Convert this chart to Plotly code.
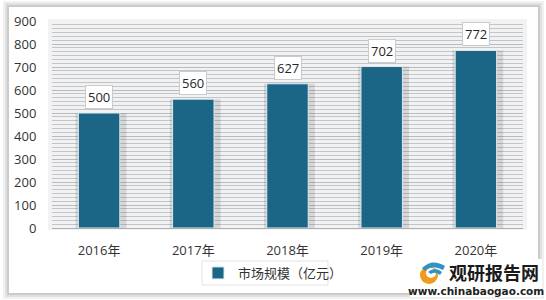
import plotly.graph_objects as go

# ---- data ----
years = ["2016年", "2017年", "2018年", "2019年", "2020年"]
values = [500, 560, 627, 702, 772]
series_name = "市场规模（亿元）"
y_tickvals = [0, 100, 200, 300, 400, 500, 600, 700, 800, 900]

W, H = 546, 300
FONT = "Open Sans, Noto Sans CJK SC, sans-serif"


def px(x):
    return x / W


def py(y):
    return 1 - y / H


fig = go.Figure()

# soft shadow behind bars (offset to the right, as in the reference)
fig.add_trace(go.Bar(
    x=years, y=values, width=0.54, offset=-0.25,
    marker=dict(color="rgba(60,60,60,0.15)", line=dict(width=0)),
    showlegend=False, hoverinfo="skip",
))
fig.add_trace(go.Bar(
    x=years, y=values, width=0.44, name=series_name,
    marker=dict(color="#1b6687", line=dict(color="#dfe8ee", width=1)),
))

# value labels in white boxes
for yr, v in zip(years, values):
    fig.add_annotation(
        x=yr, y=v, text=str(v), showarrow=False,
        yanchor="bottom", yshift=4,
        bgcolor="white", bordercolor="#c9cccf", borderwidth=1, borderpad=2,
        font=dict(family=FONT, size=13, color="#262626"),
    )

shapes = []
# card shadow layers
for i, op in enumerate([0.10, 0.14, 0.20]):
    d = 3 - i
    shapes.append(dict(type="rect", xref="paper", yref="paper", layer="below",
                       x0=px(9 - d * 2), x1=px(538 + d * 2), y0=py(293 + d * 2), y1=py(7 - d * 2),
                       fillcolor=f"rgba(120,120,120,{op})", line=dict(width=0)))
shapes.append(dict(type="rect", xref="paper", yref="paper", layer="below",
                   x0=px(9), x1=px(538), y0=py(293), y1=py(7),
                   fillcolor="white", line=dict(width=0)))
# plot panel soft shadow
shapes.append(dict(type="rect", xref="paper", yref="paper", layer="below",
                   x0=px(48), x1=px(527), y0=py(230), y1=py(19),
                   fillcolor="rgba(150,150,150,0.12)", line=dict(width=0)))
# legend box
shapes.append(dict(type="rect", xref="paper", yref="paper", layer="below",
                   x0=px(202), x1=px(328), y0=py(285), y1=py(261),
                   fillcolor="white", line=dict(color="rgba(200,200,200,0.5)", width=1)))
# watermark white box
shapes.append(dict(type="rect", xref="paper", yref="paper", layer="above",
                   x0=px(410), x1=px(542), y0=py(297), y1=py(259),
                   fillcolor="white", line=dict(width=0)))


def circle(cx, cy, r, color):
    return dict(type="circle", xref="paper", yref="paper", layer="above",
                x0=px(cx - r), x1=px(cx + r), y0=py(cy + r), y1=py(cy - r),
                fillcolor=color, line=dict(width=0))


# logo approximation
shapes.append(circle(429, 275, 9, "#f39a1e"))
shapes.append(circle(431, 273, 5, "white"))
shapes.append(dict(type="path", xref="paper", yref="paper", layer="above",
                   path=(f"M {px(422)},{py(268)} Q {px(432)},{py(258)} {px(445)},{py(266)} "
                         f"L {px(443)},{py(270)} Q {px(432)},{py(264)} {px(425)},{py(271)} Z"),
                   fillcolor="#2f93c8", line=dict(width=0)))
shapes.append(dict(type="path", xref="paper", yref="paper", layer="above",
                   path=(f"M {px(428)},{py(272)} Q {px(435)},{py(266)} {px(442)},{py(272)} "
                         f"L {px(440)},{py(275)} Q {px(435)},{py(271)} {px(431)},{py(274)} Z"),
                   fillcolor="#2f93c8", line=dict(width=0)))

fig.add_annotation(xref="paper", yref="paper", x=px(447), y=py(272), xanchor="left", yanchor="middle",
                   text="<b>观研报告网</b>", showarrow=False,
                   font=dict(family="Noto Sans CJK SC", size=18, color="#1a1a1a"))
fig.add_annotation(xref="paper", yref="paper", x=px(476), y=py(291), xanchor="center", yanchor="middle",
                   text="<b>www.chinabaogao.com</b>", showarrow=False,
                   font=dict(family="DejaVu Sans, sans-serif", size=10.5, color="#222222"))

fig.update_layout(
    width=W, height=H,
    margin=dict(l=0, r=0, t=0, b=0, autoexpand=False),
    paper_bgcolor="white",
    plot_bgcolor="#dfe5ea",
    barmode="overlay",
    shapes=shapes,
    font=dict(family=FONT, size=13, color="#333333"),
    showlegend=True,
    legend=dict(orientation="h", x=px(198), y=py(273), xanchor="left", yanchor="middle",
                bgcolor="rgba(0,0,0,0)", font=dict(family=FONT, size=13, color="#333333"),
                itemwidth=30),
    xaxis=dict(domain=[px(52), px(523)], showgrid=False, zeroline=False, automargin=False,
               showline=True, linecolor="#aab0b5", linewidth=1,
               ticks="outside", ticklen=10, tickcolor="rgba(0,0,0,0)",
               tickfont=dict(family=FONT, size=13, color="#333333")),
    yaxis=dict(domain=[py(228), py(21)], range=[0, 900], tickvals=y_tickvals, automargin=False,
               showgrid=True, gridcolor="#b5bcc1", gridwidth=1, zeroline=False,
               showline=False,
               ticks="outside", ticklen=12, tickcolor="rgba(0,0,0,0)",
               tickfont=dict(family=FONT, size=13, color="#333333"),
               minor=dict(dtick=100 / 6, showgrid=True, gridcolor="#bfc5ca", gridwidth=1)),
)

fig.write_html("out.html")
